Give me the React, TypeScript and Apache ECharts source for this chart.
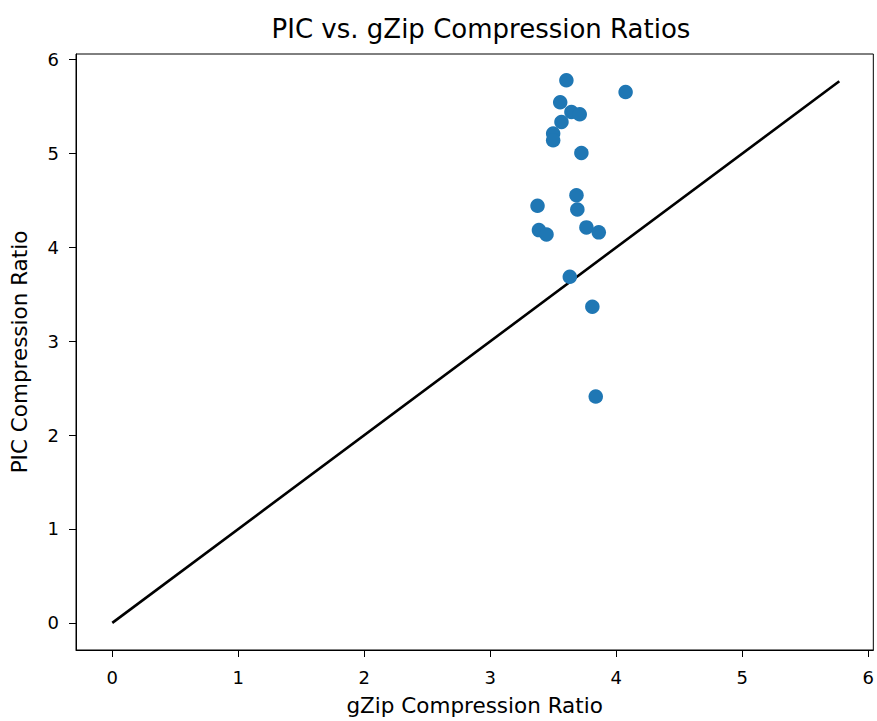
import React, { useEffect, useRef } from "react";
import * as echarts from "echarts";

const titleText = "PIC vs. gZip Compression Ratios";
const xName = "gZip Compression Ratio";
const yName = "PIC Compression Ratio";
const tickValues = [0, 1, 2, 3, 4, 5, 6];

const gzipRatios = [
  3.604, 4.074, 3.555, 3.644, 3.71, 3.565, 3.499, 3.499, 3.723, 3.684,
  3.691, 3.375, 3.386, 3.446, 3.763, 3.861, 3.631, 3.81, 3.837,
];
const picRatios = [
  5.78, 5.655, 5.546, 5.443, 5.418, 5.336, 5.213, 5.141, 5.006, 4.556,
  4.404, 4.443, 4.184, 4.138, 4.213, 4.16, 3.687, 3.368, 2.411,
];
const refLine = [
  [0, 0],
  [5.77, 5.77],
];

const FONT = "DejaVu Sans";

export default function App() {
  const ref = useRef<HTMLDivElement>(null);
  useEffect(() => {
    document.body.style.margin = "0";
    const chart = echarts.init(ref.current!, null, { renderer: "svg" });
    const points = gzipRatios.map((x, i) => [x, picRatios[i]]);
    const axisCommon = {
      type: "value" as const,
      nameLocation: "middle" as const,
      nameTextStyle: { fontFamily: FONT, fontSize: 21.5, color: "#000" },
      axisLine: { show: true, onZero: false, lineStyle: { color: "#000", width: 1 } },
      axisTick: {
        show: true,
        inside: false,
        length: 7,
        lineStyle: { color: "#000", width: 1 },
        customValues: tickValues,
      },
      axisLabel: {
        fontFamily: FONT,
        fontSize: 18,
        color: "#000",
        customValues: tickValues,
      },
      splitLine: { show: false },
    };
    chart.setOption({
      animation: false,
      backgroundColor: "#fff",
      title: {
        text: titleText,
        left: 476,
        top: 11,
        textAlign: "center",
        textStyle: { fontFamily: FONT, fontSize: 26, fontWeight: "normal", color: "#000" },
      },
      grid: {
        left: 76,
        top: 54,
        right: 1,
        bottom: 70,
        show: true,
        borderColor: "#000",
        borderWidth: 1,
        containLabel: false,
      },
      xAxis: {
        ...axisCommon,
        name: xName,
        nameGap: 44,
        min: -0.288,
        max: 6.04,
        axisLabel: { ...axisCommon.axisLabel, margin: 18 },
      },
      yAxis: {
        ...axisCommon,
        name: yName,
        nameGap: 46,
        nameRotate: 90,
        min: -0.289,
        max: 6.06,
        axisLabel: { ...axisCommon.axisLabel, margin: 17 },
      },
      series: [
        {
          type: "line",
          data: refLine,
          showSymbol: false,
          symbol: "none",
          lineStyle: { color: "#000", width: 2.6 },
          z: 2,
        },
        {
          type: "scatter",
          data: points,
          symbol: "circle",
          symbolSize: 14.5,
          itemStyle: { color: "#1f77b4", opacity: 1 },
          z: 3,
        },
      ],
    });
    return () => chart.dispose();
  }, []);
  return <div ref={ref} style={{ width: 877, height: 721 }} />;
}
